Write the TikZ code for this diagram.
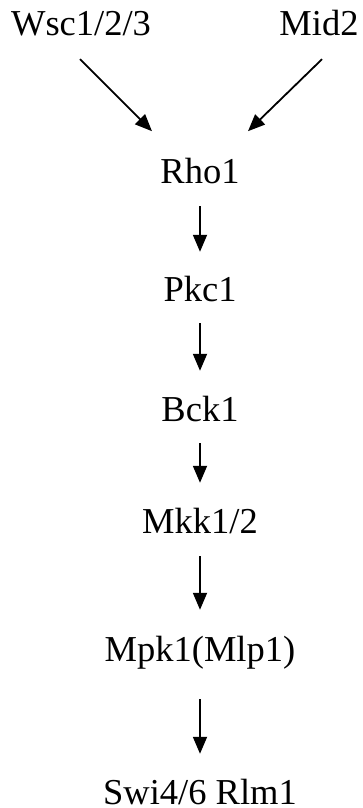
\documentclass[tikz,border=0pt]{standalone}
\usepackage{fontspec}
\setmainfont{Liberation Serif}
\usetikzlibrary{arrows.meta}
\begin{document}
\begin{tikzpicture}[x=1pt,y=-1pt,
  lbl/.style={anchor=base,inner sep=0pt,text height=24pt,text depth=8pt,
    font=\fontsize{36.5}{44}\selectfont},
  arr/.style={line width=1.8pt,-{Triangle[length=17pt,width=14pt]}},
  down/.style={arr,shorten <=14pt,shorten >=26pt}]
  \useasboundingbox (0,0) rectangle (362,808);
  % protein names, placed by baseline
  \node[lbl] (wsc) at (81,36)    {Wsc1/2/3};
  \node[lbl] (mid) at (319,36)   {Mid2};
  \node[lbl] (rho) at (200,183)  {Rho1};
  \node[lbl] (pkc) at (200,301)  {Pkc1};
  \node[lbl] (bck) at (200,421)  {Bck1};
  \node[lbl] (mkk) at (200,533)  {Mkk1/2};
  \node[lbl] (mpk) at (200,661)  {Mpk1(Mlp1)};
  \node[lbl] (swi) at (200,804)  {Swi4/6 Rlm1};
  % sensors feeding Rho1
  \draw[arr] ([xshift=-1pt,yshift=-15pt]wsc.south) -- ++(72,72);
  \draw[arr] ([xshift=3pt,yshift=-15pt]mid.south) -- ++(-74,72);
  % kinase cascade
  \draw[down,shorten <=15pt,shorten >=25pt] (rho) -- (pkc);
  \draw[down] (pkc) -- (bck);
  \draw[down] (bck) -- (mkk);
  \draw[down,shorten <=15pt,shorten >=27pt] (mkk) -- (mpk);
  \draw[down,shorten <=30pt,shorten >=26pt] (mpk) -- (swi);
\end{tikzpicture}
\end{document}
